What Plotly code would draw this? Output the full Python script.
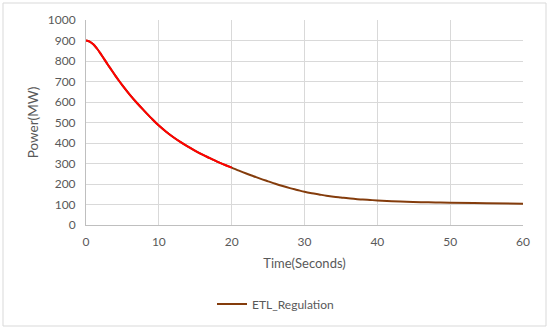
import plotly.graph_objects as go

# Data
time_s = [0, 0.5, 1, 1.5, 2, 2.5, 3, 3.5, 4, 4.5, 5, 6, 7, 8, 9, 10, 11, 12, 13, 14, 15,
          16, 17, 18, 19, 20, 21, 22, 23, 24, 25, 26, 27, 28, 29, 30, 31, 32, 33, 34, 35,
          36, 37, 38, 39, 40, 42, 44, 46, 48, 50, 55, 60]
power_mw = [900, 895, 882, 861, 836, 809, 782, 756, 730, 705, 681, 636, 595, 557, 520, 485,
            455, 428, 404, 382, 362, 343, 326, 309, 294, 280, 265, 251, 238, 225, 213, 201,
            190, 180, 171, 162, 155, 149, 143, 138, 134, 130, 127, 124, 122, 120, 116, 113,
            111, 110, 109, 106, 104]
red_time = time_s[:26]
red_power = power_mw[:26]

x_ticks = [0, 10, 20, 30, 40, 50, 60]
y_ticks = [0, 100, 200, 300, 400, 500, 600, 700, 800, 900, 1000]

FONT = "Lato, Carlito, Calibri, sans-serif"
GRAY = "#595959"

fig = go.Figure()
fig.add_trace(go.Scatter(
    x=time_s, y=power_mw, mode="lines", name="ETL_Regulation",
    line=dict(color="#843C0C", width=2, shape="spline", smoothing=1),
))
fig.add_trace(go.Scatter(
    x=red_time, y=red_power, mode="lines", name="", showlegend=False,
    line=dict(color="#FF0000", width=2, shape="spline", smoothing=1),
))

L, R, T, B = 86, 27, 20, 105
pw, ph = 550 - L - R, 330 - T - B

fig.update_layout(
    width=550, height=330,
    margin=dict(l=L, r=R, t=T, b=B),
    paper_bgcolor="white", plot_bgcolor="white",
    font=dict(family=FONT, size=12, color=GRAY),
    showlegend=True,
    legend=dict(orientation="h", x=(212 - L) / pw, xanchor="left",
                y=(T + ph - 304) / ph, yanchor="middle",
                font=dict(family=FONT, size=12, color=GRAY),
                bgcolor="rgba(0,0,0,0)"),
    xaxis=dict(range=[0, 60], tickvals=x_ticks, ticktext=[str(v) for v in x_ticks],
               showgrid=True, gridcolor="#D9D9D9", gridwidth=1,
               showline=True, linecolor="#BFBFBF", linewidth=1,
               zeroline=False, ticks="", ticklen=0, ticklabelstandoff=6,
               title=dict(text="Time(Seconds)", font=dict(family=FONT, size=13, color=GRAY),
                          standoff=10),
               tickfont=dict(family=FONT, size=12, color=GRAY)),
    yaxis=dict(range=[0, 1000], tickvals=y_ticks, ticktext=[str(v) for v in y_ticks],
               showgrid=True, gridcolor="#D9D9D9", gridwidth=1,
               showline=True, linecolor="#BFBFBF", linewidth=1,
               zeroline=False, ticks="", ticklen=0, ticklabelstandoff=7,
               title=dict(text="Power(MW)", font=dict(family=FONT, size=13.5, color=GRAY),
                          standoff=6),
               tickfont=dict(family=FONT, size=12, color=GRAY)),
)

fig.add_shape(type="rect", xref="paper", yref="paper",
              x0=(3 - L) / pw, x1=(546 - L) / pw,
              y0=(T + ph - 326) / ph, y1=(T + ph - 3) / ph,
              line=dict(color="#D9D9D9", width=1), fillcolor="rgba(0,0,0,0)", layer="below")

fig.write_html("out.html", config={"displayModeBar": False},
               post_script="document.body.style.margin='0';document.body.style.padding='0';")
